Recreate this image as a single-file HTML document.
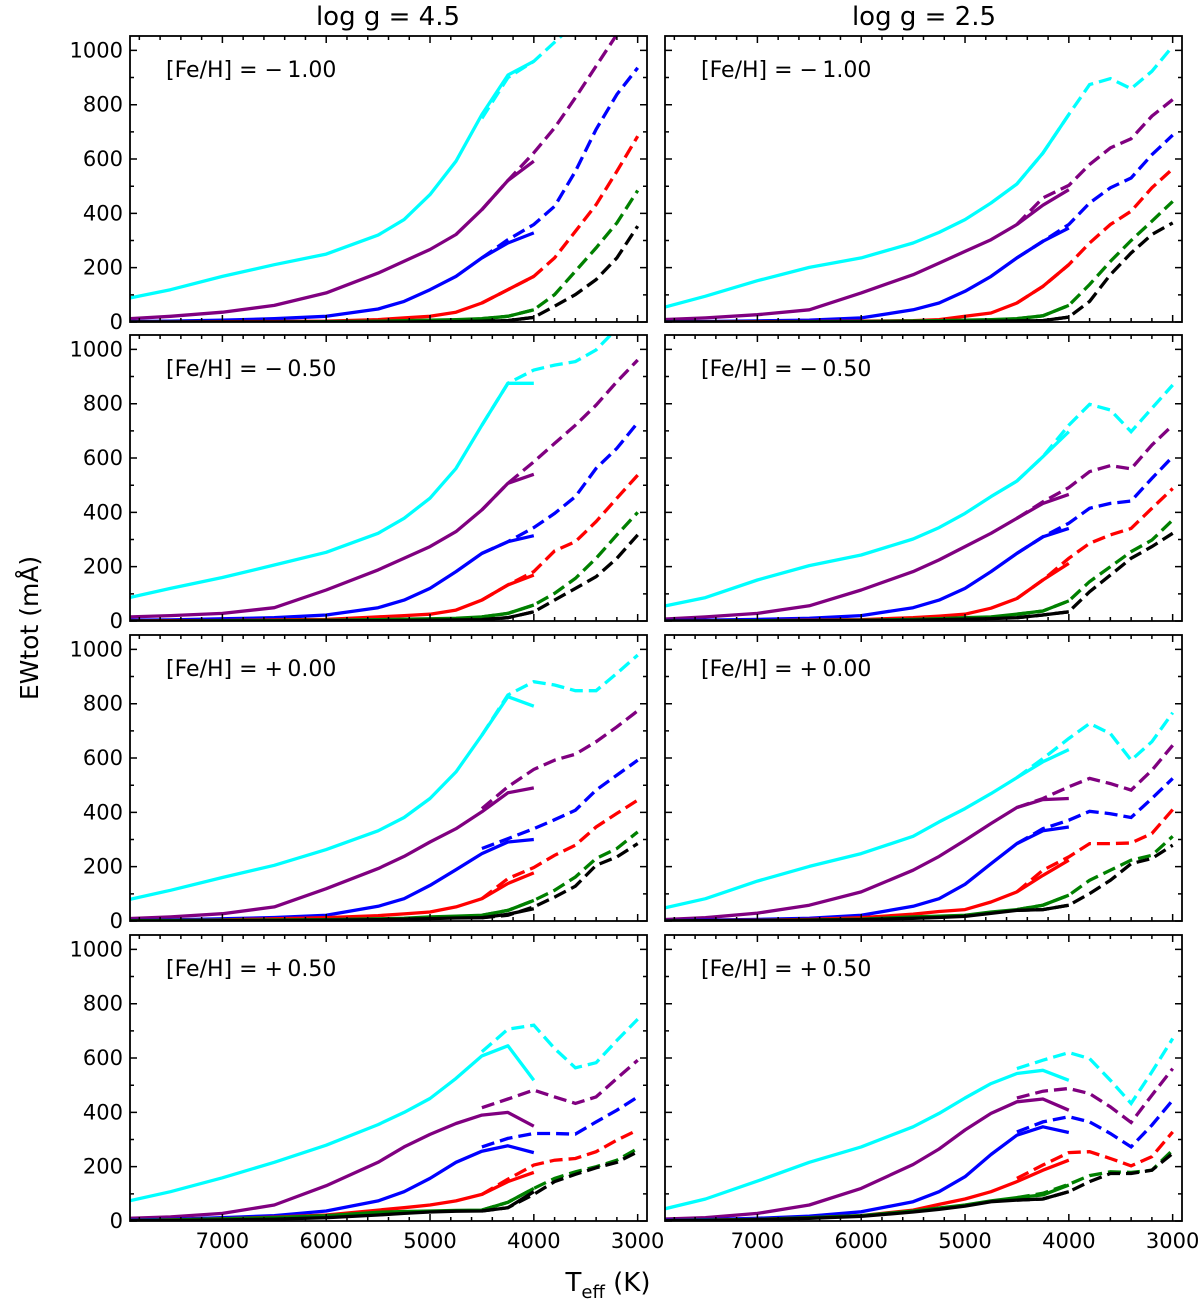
<!DOCTYPE html>
<html><head><meta charset="utf-8"><style>
html,body{margin:0;padding:0;background:#fff;}
svg{display:block;font-family:"DejaVu Sans","Liberation Sans",sans-serif;}
</style></head><body>
<svg id="fig" width="1200" height="1300" viewBox="0 0 1200 1300" xmlns="http://www.w3.org/2000/svg">
<text x="388" y="25" font-size="26" text-anchor="middle">log g = 4.5</text>
<text x="924" y="25" font-size="26" text-anchor="middle">log g = 2.5</text>
<text x="0" y="0" font-size="25" text-anchor="middle" transform="translate(38,628) rotate(-90)">EWtot (mÅ)</text>
<text x="608" y="1291" font-size="26" text-anchor="middle">T<tspan font-size="18" dy="7">eff</tspan><tspan dy="-7"> (K)</tspan></text>
</svg>
<script>
const solidT = [7900,7500,7000,6500,6000,5500,5250,5000,4750,4500,4250,4000];
const dashT = [4500,4250,4000,3800,3600,3400,3200,3000];
const seriesColors = ["cyan","purple","blue","red","green","black"];
const seriesNames = ["cyan","purple","blue","red","green","black"];
const fehLabels = ["[Fe/H]  =  \u2212\u20091.00","[Fe/H]  =  \u2212\u20090.50","[Fe/H]  =  +\u20090.00","[Fe/H]  =  +\u20090.50"];
const xTickLabels = [7000,6000,5000,4000,3000];
const yTickLabels = [0,200,400,600,800,1000];

const solid_r1_g45 = [
 [88,119,168,211,250,320,377,469,592,764,909,960],
 [12,21,36,61,107,180,224,267,322,414,521,592],
 [2,3,7,12,21,48,76,119,168,236,291,328],
 [0,0,1,2,3,9,15,21,36,70,119,168],
 [0,0,0,0,1,3,5,7,9,12,21,45],
 [0,0,0,0,0,0,0,1,2,3,5,17]];
const dash_r1_g45 = [
 [750,900,960,1030,1100,1150,1200,1250],
 [414,521,623,715,826,942,1059,1150],
 [236,303,359,426,555,709,838,936],
 [70,119,168,236,334,432,555,684],
 [12,21,45,101,187,273,365,484],
 [3,5,17,58,101,156,236,353]];
const solid_r1_g25 = [
 [54,95,152,201,236,291,330,377,438,508,622,764],
 [9,15,27,45,107,174,217,260,303,359,430,487],
 [1,2,4,7,15,45,70,113,168,236,297,346],
 [0,0,1,2,3,5,9,21,33,70,131,211],
 [0,0,0,1,2,4,5,7,9,12,23,61],
 [0,0,0,0,0,1,1,2,3,4,5,18]];
const dash_r1_g25 = [
 [508,622,764,874,896,859,923,1015],
 [359,457,503,580,641,675,758,819],
 [236,297,359,438,494,530,616,688],
 [70,131,211,291,359,408,494,564],
 [12,23,61,138,223,300,371,444],
 [4,5,18,76,174,254,322,365]];
const solid_r2_g45 = [
 [86,120,160,206,253,323,378,452,562,721,875,875],
 [15,20,28,49,114,188,231,274,329,409,507,540],
 [3,4,8,12,22,49,77,120,182,249,292,314],
 [0,1,2,4,6,15,20,25,40,77,133,169],
 [0,0,1,2,3,5,7,8,10,15,28,59],
 [0,0,0,0,1,1,2,3,4,5,12,34]];
const dash_r2_g45 = [
 [721,875,924,942,955,998,1077,1150],
 [409,507,586,654,721,795,881,961],
 [249,292,344,396,458,562,636,730],
 [77,133,182,258,292,366,452,537],
 [15,28,59,102,157,231,317,400],
 [5,12,34,77,120,163,231,317]];
const solid_r2_g25 = [
 [55,86,151,204,243,302,344,396,458,515,605,697],
 [7,15,28,56,114,182,225,274,323,378,433,466],
 [2,3,6,10,20,49,77,120,182,249,310,341],
 [0,0,1,3,5,12,18,25,47,83,151,212],
 [0,0,1,2,3,6,9,12,15,25,37,74],
 [0,0,0,1,2,3,5,7,9,12,22,34]];
const dash_r2_g25 = [
 [515,605,721,798,777,697,783,869],
 [378,439,491,550,572,560,648,721],
 [249,310,360,415,433,442,525,605],
 [83,151,231,286,317,341,415,488],
 [25,37,74,145,200,255,298,372],
 [12,22,34,108,169,231,274,323]];
const solid_r3_g45 = [
 [79,113,160,205,263,332,381,451,549,684,826,791],
 [9,15,27,52,119,193,238,291,340,402,472,490],
 [2,4,8,13,21,54,82,131,189,248,291,300],
 [1,2,4,8,12,20,26,33,52,82,138,177],
 [1,2,3,4,5,8,10,15,18,21,39,76],
 [0,0,1,2,3,5,7,9,11,12,25,45]];
const dash_r3_g45 = [
 [684,832,881,869,848,848,912,979],
 [414,494,558,592,614,660,715,774],
 [267,303,340,373,408,482,537,592],
 [82,156,197,242,279,346,396,445],
 [21,39,76,113,162,230,267,328],
 [12,21,52,88,128,205,236,285]];
const solid_r3_g25 = [
 [48,82,147,201,248,312,365,414,469,528,586,631],
 [5,12,29,58,107,187,238,297,359,418,447,451],
 [1,3,6,10,21,54,82,135,211,285,332,346],
 [0,1,3,6,12,25,35,42,70,107,168,224],
 [0,1,2,4,7,15,18,21,33,42,58,95],
 [0,1,2,3,5,10,13,17,28,39,42,58]];
const dash_r3_g25 = [
 [528,598,672,727,690,592,660,767],
 [418,451,494,525,506,482,555,647],
 [285,340,371,404,395,381,451,525],
 [107,187,236,285,285,287,322,410],
 [42,58,95,150,187,224,242,312],
 [39,42,58,101,150,211,230,279]];
const solid_r4_g45 = [
 [74,108,159,216,279,355,400,451,525,608,645,518],
 [10,15,28,59,130,216,273,319,359,390,400,349],
 [4,6,12,20,37,74,108,157,216,257,277,252],
 [2,4,8,14,22,40,49,59,74,98,145,179],
 [2,4,8,13,20,32,35,37,39,40,69,120],
 [1,2,4,7,12,22,28,33,36,37,49,108]];
const dash_r4_g45 = [
 [623,706,721,635,564,583,665,743],
 [417,449,482,457,433,457,525,592],
 [273,304,322,322,320,365,408,457],
 [98,154,206,224,230,255,298,335],
 [40,69,120,157,181,200,224,267],
 [37,49,98,145,172,196,216,255]];
const solid_r4_g25 = [
 [44,81,147,216,273,347,396,453,506,543,555,518],
 [7,12,28,59,120,208,265,335,396,439,449,408],
 [3,5,10,18,34,71,108,163,245,316,347,326],
 [1,3,6,12,20,40,61,81,108,145,187,224],
 [1,3,6,12,20,37,48,59,74,86,96,132],
 [1,2,5,10,17,33,43,55,71,77,81,108]];
const dash_r4_g25 = [
 [561,592,620,598,518,433,549,672],
 [453,478,488,469,420,363,463,561],
 [328,365,384,365,322,273,353,445],
 [157,206,252,255,230,203,237,328],
 [86,102,135,167,181,179,187,261],
 [77,81,108,145,175,175,187,249]];

const solidSets = [[solid_r1_g45,solid_r1_g25],[solid_r2_g45,solid_r2_g25],[solid_r3_g45,solid_r3_g25],[solid_r4_g45,solid_r4_g25]];
const dashSets = [[dash_r1_g45,dash_r1_g25],[dash_r2_g45,dash_r2_g25],[dash_r3_g45,dash_r3_g25],[dash_r4_g45,dash_r4_g25]];

const NS = "http://www.w3.org/2000/svg";
const svg = document.getElementById("fig");
const panelLefts = [130, 665];
const panelTops = [36, 335, 635, 935];
const PW = 517, PH = 286;
const XMAX = 7890, XMIN = 2910, YMIN = 0, YMAX = 1053;
function mk(tag, attrs, parent){const e=document.createElementNS(NS,tag);for(const k in attrs)e.setAttribute(k,attrs[k]);(parent||svg).appendChild(e);return e;}
function sx(left,T){return left + (XMAX - T)/(XMAX - XMIN)*PW;}
function sy(top,v){return top + PH - (v - YMIN)/(YMAX - YMIN)*PH;}

const defs = mk("defs",{});
for(let r=0;r<4;r++){
 for(let c=0;c<2;c++){
  const L=panelLefts[c], T=panelTops[r];
  const g = mk("g",{});
  
  
  const cp = mk("clipPath",{id:"cp"+r+c},defs);
  mk("rect",{x:L,y:T,width:PW,height:PH},cp);
  const lines = mk("g",{"clip-path":"url(#cp"+r+c+")"},g);
  const sset = solidSets[r][c], dset = dashSets[r][c];
  for(let k=0;k<6;k++){
   let p="";
   solidT.forEach((t,i)=>{p+=(i?"L":"M")+sx(L,t).toFixed(1)+","+sy(T,sset[k][i]).toFixed(1);});
   const sl = mk("path",{d:p,fill:"none",stroke:seriesColors[k],"stroke-width":3.3,"stroke-linejoin":"round"},lines);
   
   
   let q="";
   dashT.forEach((t,i)=>{q+=(i?"L":"M")+sx(L,t).toFixed(1)+","+sy(T,dset[k][i]).toFixed(1);});
   const dl = mk("path",{d:q,fill:"none",stroke:seriesColors[k],"stroke-width":3.3,"stroke-dasharray":"13,6"},lines);
   
   
  }
  let tp="";
  for(let t=3000;t<=7800;t+=200){
   const x=sx(L,t); const len=(t%1000===0)?7:4;
   tp+="M"+x+","+(T+PH)+"v"+(-len)+"M"+x+","+T+"v"+len;
  }
  for(let v=0;v<=1000;v+=100){
   const y=sy(T,v); const len=(v%200===0)?7:4;
   tp+="M"+L+","+y+"h"+len+"M"+(L+PW)+","+y+"h"+(-len);
  }
  const tk = mk("path",{d:tp,stroke:"#000","stroke-width":1.5,fill:"none"},g);
  
  
  const fr = mk("rect",{x:L,y:T,width:PW,height:PH,fill:"none",stroke:"#000","stroke-width":1.8},g);
  
  
  const lab = mk("text",{x:L+36,y:T+41,"font-size":22,"xml:space":"preserve"},g);
  lab.textContent = fehLabels[r];
  
  
  if(c===0){
   yTickLabels.forEach(v=>{
    const tl = mk("text",{x:L-7,y:sy(T,v)+7,"font-size":21,"text-anchor":"end"},g);
    tl.textContent = v;
    
    
   });
  }
  if(r===3){
   xTickLabels.forEach(t=>{
    const tl = mk("text",{x:sx(L,t),y:T+PH+27,"font-size":21,"text-anchor":"middle"},g);
    tl.textContent = t;
    
    
   });
  }
 }
}
</script>
</body></html>
